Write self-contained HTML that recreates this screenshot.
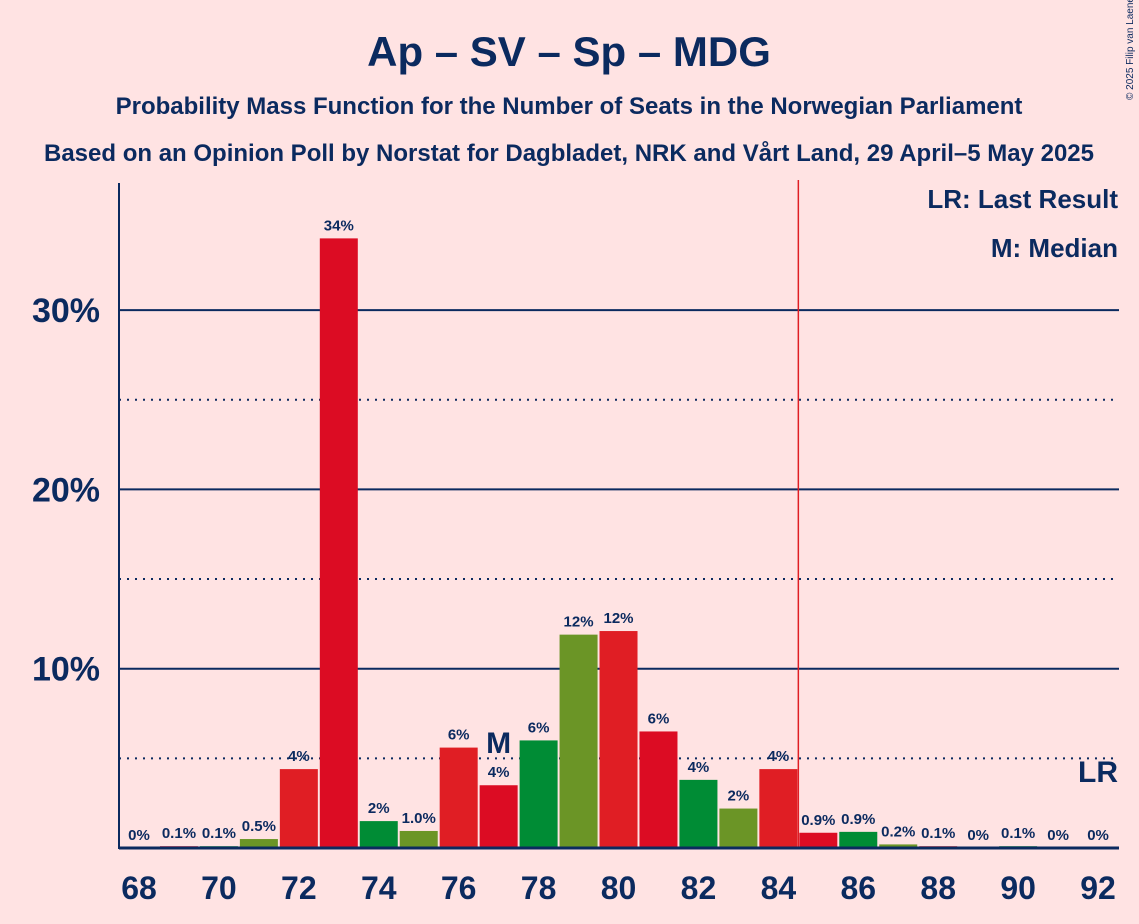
<!DOCTYPE html>
<html><head><meta charset="utf-8"><style>
body{margin:0;background:#ffe3e3;}
svg{display:block;font-family:"Liberation Sans",sans-serif;}
</style></head><body>
<svg width="1139" height="924">
<rect width="1139" height="924" fill="#ffe3e3"/>
<text x="569" y="66" text-anchor="middle" font-size="42" font-weight="bold" fill="#0b2a5f">Ap – SV – Sp – MDG</text>
<text x="569" y="114" text-anchor="middle" font-size="24" font-weight="bold" fill="#0b2a5f">Probability Mass Function for the Number of Seats in the Norwegian Parliament</text>
<text x="569" y="161" text-anchor="middle" font-size="24" font-weight="bold" fill="#0b2a5f">Based on an Opinion Poll by Norstat for Dagbladet, NRK and Vårt Land, 29 April–5 May 2025</text>
<text x="1133" y="100" font-size="10" fill="#0b2a5f" transform="rotate(-90 1133 100)">© 2025 Filip van Laenen</text>
<g id="grid"></g>
<g id="bars"></g>
<g id="labels"></g>
<g id="axes"></g>
<text x="1118" y="208" text-anchor="end" font-size="26" font-weight="bold" fill="#0b2a5f">LR: Last Result</text>
<text x="1118" y="257" text-anchor="end" font-size="26" font-weight="bold" fill="#0b2a5f">M: Median</text>
</svg>
<script>
const seats=[68,69,70,71,72,73,74,75,76,77,78,79,80,81,82,83,84,85,86,87,88,89,90,91,92];
const probs=[0,0.1,0.1,0.5,4.4,34.0,1.5,0.95,5.6,3.5,6.0,11.9,12.1,6.5,3.8,2.2,4.4,0.85,0.9,0.2,0.1,0,0.1,0,0];
const valueLabels=["0%","0.1%","0.1%","0.5%","4%","34%","2%","1.0%","6%","4%","6%","12%","12%","6%","4%","2%","4%","0.9%","0.9%","0.2%","0.1%","0%","0.1%","0%","0%"];
const yTicks=[10,20,30];
const yMinor=[5,15,25];
const xTicks=[68,70,72,74,76,78,80,82,84,86,88,90,92];
const medianSeat=77;
const lastResult=92;
const majority=84.5;
const colors=["#e01e24","#dc0c23","#008c35","#6b9526"];
const NS="http://www.w3.org/2000/svg";
const X=s=>139+(s-68)*39.96;
const Y=v=>848-v*17.93;
function mk(tag,attrs,parent,text){const e=document.createElementNS(NS,tag);for(const k in attrs)e.setAttribute(k,attrs[k]);if(text!==undefined)e.textContent=text;document.getElementById(parent).appendChild(e);return e;}
yMinor.forEach(v=>{const l=mk('line',{x1:119,x2:1119,y1:Y(v),y2:Y(v),stroke:'#0b2a5f','stroke-width':2,'stroke-dasharray':'2,6'},'grid');

});
yTicks.forEach(v=>{const l=mk('line',{x1:119,x2:1119,y1:Y(v),y2:Y(v),stroke:'#0b2a5f','stroke-width':2},'grid');


const t=mk('text',{x:100,y:Y(v)+12,'text-anchor':'end','font-size':34,'font-weight':'bold',fill:'#0b2a5f'},'axes',v+'%');

});
seats.forEach((s,i)=>{const h=probs[i]*17.93;
const r=mk('rect',{x:X(s)-19,y:848-h,width:38,height:h,fill:colors[(s-68)%4]},'bars');


const t=mk('text',{x:X(s),y:848-h-8,'text-anchor':'middle','font-size':15,'font-weight':'bold',fill:'#0b2a5f'},'labels',valueLabels[i]);

});
const mi=seats.indexOf(medianSeat);
const m=mk('text',{x:X(medianSeat),y:Y(probs[mi])-32,'text-anchor':'middle','font-size':30,'font-weight':'bold',fill:'#0b2a5f'},'labels','M');


const lr=mk('text',{x:X(lastResult),y:782,'text-anchor':'middle','font-size':30,'font-weight':'bold',fill:'#0b2a5f'},'labels','LR');


const mj=mk('line',{x1:X(majority),x2:X(majority),y1:180,y2:848,stroke:'#e01e24','stroke-width':1.5},'axes');


const ya=mk('line',{x1:119,x2:119,y1:183,y2:849,stroke:'#0b2a5f','stroke-width':2},'axes');


const xa=mk('line',{x1:119,x2:1119,y1:848,y2:848,stroke:'#0b2a5f','stroke-width':3},'axes');


xTicks.forEach(s=>{const t=mk('text',{x:X(s),y:899,'text-anchor':'middle','font-size':32,'font-weight':'bold',fill:'#0b2a5f'},'axes',s);

});
</script>
</body></html>
